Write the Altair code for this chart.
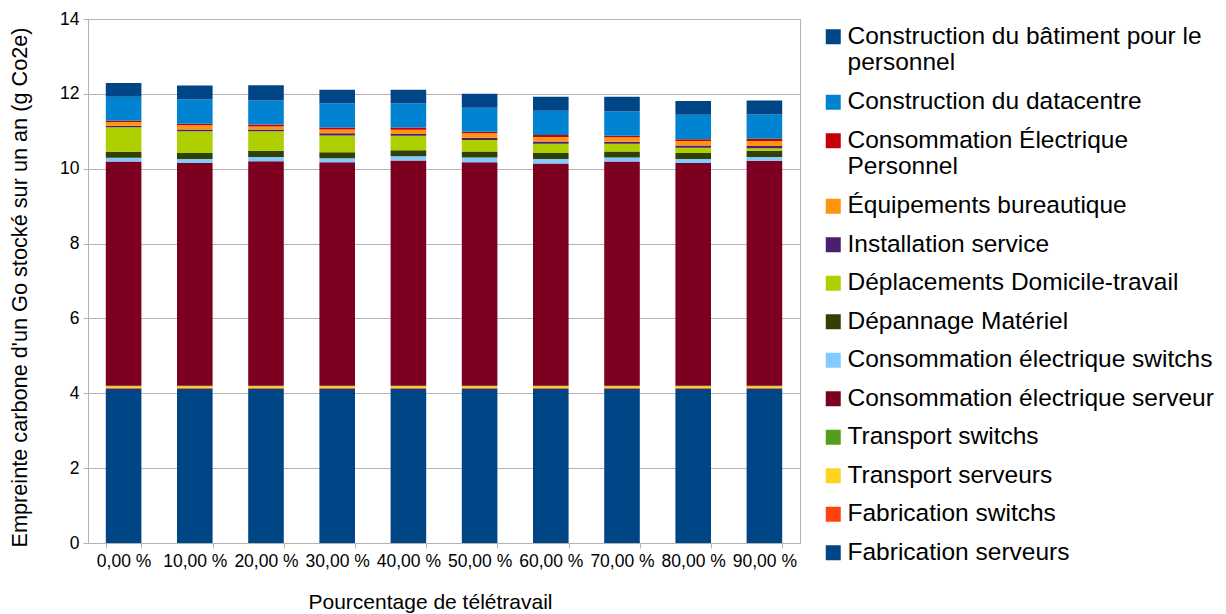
import altair as alt
import pandas as pd

categories = ["0,00 %", "10,00 %", "20,00 %", "30,00 %", "40,00 %",
              "50,00 %", "60,00 %", "70,00 %", "80,00 %", "90,00 %"]

# series listed bottom to top
series_names = [
    "Fabrication serveurs",
    "Fabrication switchs",
    "Transport serveurs",
    "Transport switchs",
    "Consommation électrique serveur",
    "Consommation électrique switchs",
    "Dépannage Matériel",
    "Déplacements Domicile-travail",
    "Installation service",
    "Équipements bureautique",
    "Consommation Électrique Personnel",
    "Construction du datacentre",
    "Construction du bâtiment pour le personnel",
]
series_colors = [
    "#004586", "#ff420e", "#ffd320", "#579d1c", "#7e0021", "#83caff",
    "#314004", "#aecf00", "#4b1f6f", "#ff950e", "#c5000b", "#0084d1", "#004586",
]

fabrication_serveurs = [4.12, 4.12, 4.12, 4.12, 4.12, 4.12, 4.12, 4.12, 4.12, 4.12]
fabrication_switchs = [0.02, 0.02, 0.02, 0.02, 0.02, 0.02, 0.02, 0.02, 0.02, 0.02]
transport_serveurs = [0.05, 0.05, 0.05, 0.05, 0.05, 0.05, 0.05, 0.05, 0.05, 0.05]
transport_switchs = [0.01, 0.01, 0.01, 0.01, 0.01, 0.01, 0.01, 0.01, 0.01, 0.01]
conso_serveur = [5.99, 5.95, 6.00, 5.97, 6.02, 5.97, 5.94, 5.99, 5.95, 6.01]
conso_switchs = [0.10, 0.11, 0.11, 0.11, 0.11, 0.13, 0.12, 0.11, 0.11, 0.10]
depannage = [0.16, 0.16, 0.17, 0.16, 0.16, 0.16, 0.16, 0.16, 0.16, 0.17]
deplacements = [0.66, 0.58, 0.52, 0.45, 0.39, 0.31, 0.25, 0.21, 0.14, 0.07]
installation = [0.04, 0.05, 0.05, 0.06, 0.05, 0.06, 0.06, 0.05, 0.06, 0.06]
equipements = [0.10, 0.11, 0.08, 0.10, 0.11, 0.12, 0.12, 0.12, 0.12, 0.13]
conso_personnel = [0.03, 0.04, 0.05, 0.05, 0.06, 0.04, 0.05, 0.04, 0.05, 0.06]
datacentre = [0.64, 0.65, 0.64, 0.64, 0.64, 0.64, 0.65, 0.65, 0.65, 0.65]
batiment = [0.37, 0.37, 0.41, 0.37, 0.37, 0.37, 0.37, 0.39, 0.37, 0.37]

all_values = [fabrication_serveurs, fabrication_switchs, transport_serveurs,
              transport_switchs, conso_serveur, conso_switchs, depannage,
              deplacements, installation, equipements, conso_personnel,
              datacentre, batiment]

rows = []
for si, (name, vals) in enumerate(zip(series_names, all_values)):
    for ci, cat in enumerate(categories):
        rows.append({"cat": cat, "serie": name, "value": vals[ci], "idx": si})
df = pd.DataFrame(rows)

legend_domain = list(reversed(series_names))
legend_range = list(reversed(series_colors))

label_expr = (
    "datum.label == 'Construction du bâtiment pour le personnel' ? "
    "['Construction du bâtiment pour le', 'personnel'] : "
    "datum.label == 'Consommation Électrique Personnel' ? "
    "['Consommation Électrique', 'Personnel'] : datum.label"
)

FONT = "Liberation Sans"

chart = alt.Chart(df).mark_bar().encode(
    x=alt.X("cat:N", sort=categories, title="Pourcentage de télétravail",
            scale=alt.Scale(paddingInner=0.5, paddingOuter=0.25),
            axis=alt.Axis(labelAngle=0, tickBand="extent", labelFontSize=17.5,
                          titleFontSize=21, titlePadding=22, labelPadding=4,
                          tickSize=5, titleFontWeight="normal", titleX=342)),
    y=alt.Y("value:Q", stack="zero",
            title="Empreinte carbone d'un Go stocké sur un an (g Co2e)",
            scale=alt.Scale(domain=[0, 14]),
            axis=alt.Axis(values=[0, 2, 4, 6, 8, 10, 12, 14], labelFontSize=17.5,
                          titleFontSize=21.7, titlePadding=28, tickSize=5,
                          labelPadding=4, titleFontWeight="normal", titleY=268)),
    color=alt.Color("serie:N",
                    scale=alt.Scale(domain=legend_domain, range=legend_range),
                    legend=alt.Legend(title=None, orient="none", legendX=733,
                                      legendY=5.5, symbolType="square",
                                      symbolSize=225, symbolStrokeWidth=0,
                                      labelFontSize=24.5, labelOffset=2,
                                      rowPadding=13.5, labelLimit=500,
                                      labelExpr=label_expr)),
    order=alt.Order("idx:Q", sort="ascending"),
).properties(
    width=712, height=524,
    autosize=alt.AutoSizeParams(type="none"),
    padding={"left": 80, "top": 11, "right": 418, "bottom": 75},
).configure(
    font=FONT,
).configure_axis(
    gridColor="#b3b3b3", domainColor="#b3b3b3", tickColor="#b3b3b3",
    labelColor="#000000", titleColor="#000000", labelFont=FONT, titleFont=FONT,
).configure_axisX(grid=False).configure_view(
    stroke="#b3b3b3", strokeWidth=1,
).configure_legend(labelFont=FONT, labelColor="#000000")

chart.save("out.html", embed_options={"renderer": "svg", "actions": False})
